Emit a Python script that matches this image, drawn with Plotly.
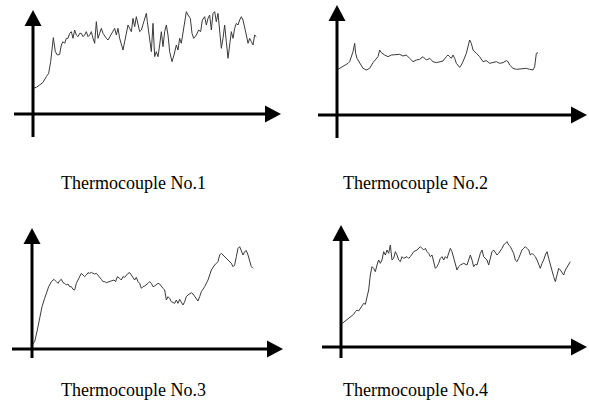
import plotly.graph_objects as go

W, H = 589, 413

# ---- data: time (arbitrary units) and temperature (arbitrary units) ----
t1 = [0, 10, 20, 30, 40, 47, 53, 57, 61, 67, 73, 80, 85, 90, 95, 100, 105, 110, 115, 120,
      125, 130, 135, 140, 145, 150, 155, 160, 165, 170, 175, 180, 185, 190, 195, 200, 205, 210, 215, 220,
      225, 230, 235, 240, 245, 250, 255, 260, 265, 270, 275, 280, 285, 290, 295, 300, 305, 310, 315, 320,
      325, 330, 335, 340, 343, 347, 351, 355, 360, 365, 370, 375, 380, 385, 390, 395, 400, 405, 410, 417,
      423, 430, 435, 440, 445, 450, 455, 460, 465, 472, 477, 482, 490, 497, 503, 508, 515, 520, 525, 530,
      535, 540, 545, 550, 555, 560, 565, 570, 575, 580, 585, 590, 595, 600, 605, 610, 615, 620, 625, 630,
      635, 640, 645, 650, 655, 660, 665, 670]
T1 = [77, 80, 87, 95, 112, 122, 157, 207, 229, 187, 177, 179, 207, 217, 212, 227, 227, 242, 247, 227,
      252, 237, 232, 242, 242, 232, 237, 247, 232, 237, 247, 227, 212, 277, 227, 242, 257, 242, 232, 227,
      222, 232, 242, 252, 257, 237, 257, 227, 207, 192, 217, 242, 267, 257, 247, 287, 262, 292, 267, 247,
      252, 267, 282, 302, 277, 247, 207, 187, 272, 172, 187, 172, 207, 247, 202, 247, 267, 237, 187, 157,
      177, 207, 192, 227, 212, 247, 287, 307, 297, 287, 242, 227, 237, 252, 247, 282, 292, 267, 287, 297,
      252, 302, 307, 277, 302, 247, 197, 227, 267, 217, 167, 207, 247, 227, 257, 272, 267, 282, 292, 282,
      262, 237, 212, 227, 217, 207, 237, 232]

t2 = [3, 13, 23, 33, 38, 43, 48, 53, 56, 60, 68, 78, 88, 98, 108, 118, 123, 128, 133, 143,
      153, 163, 173, 188, 198, 208, 218, 228, 238, 248, 258, 268, 278, 288, 298, 308, 318, 328, 333, 338,
      343, 348, 353, 358, 368, 373, 378, 388, 393, 398, 403, 408, 418, 428, 438, 448, 458, 468, 478, 488,
      498, 508, 513, 518, 528, 538, 548, 558, 568, 578, 588, 593, 598, 603]
T2 = [137, 143, 147, 155, 160, 175, 190, 215, 185, 170, 155, 140, 135, 140, 157, 170, 175, 195, 187, 180,
      175, 180, 180, 182, 177, 180, 170, 160, 165, 167, 175, 165, 170, 160, 157, 160, 162, 175, 180, 175,
      170, 180, 170, 155, 143, 150, 160, 185, 205, 225, 215, 195, 185, 175, 160, 163, 155, 157, 160, 155,
      157, 163, 160, 150, 140, 137, 138, 137, 140, 137, 135, 145, 185, 187]

t3 = [0, 8, 16, 23, 30, 38, 45, 50, 58, 66, 73, 78, 83, 88, 93, 98, 103, 108, 113, 118,
      123, 128, 133, 138, 143, 148, 153, 158, 163, 168, 173, 178, 183, 188, 193, 198, 203, 208, 213, 218,
      223, 228, 238, 246, 251, 256, 263, 268, 273, 278, 288, 293, 298, 308, 313, 318, 323, 328, 333, 338,
      348, 353, 358, 363, 368, 373, 378, 383, 388, 393, 398, 403, 408, 413, 418, 423, 428, 433, 438, 443,
      448, 453, 458, 463, 468, 473, 478, 483, 488, 493, 498, 503, 508, 518, 528, 538, 548, 558, 563, 568,
      573, 578, 583, 588, 593, 598, 603, 608, 613, 618, 623, 628, 633, 638, 643, 648, 653, 658, 663]
T3 = [12, 22, 57, 97, 127, 152, 172, 187, 202, 209, 202, 197, 205, 209, 199, 197, 192, 195, 187, 187,
      179, 177, 197, 207, 222, 227, 222, 217, 222, 229, 227, 230, 227, 225, 227, 222, 215, 209, 202, 202,
      199, 201, 203, 207, 202, 217, 212, 207, 217, 215, 227, 229, 222, 207, 215, 202, 197, 182, 187, 189,
      197, 202, 197, 187, 189, 192, 197, 195, 187, 182, 177, 147, 157, 152, 142, 139, 137, 147, 137, 149,
      142, 132, 142, 157, 162, 167, 169, 165, 157, 152, 144, 157, 172, 187, 207, 237, 252, 262, 282, 287,
      282, 277, 272, 267, 262, 257, 247, 252, 277, 302, 307, 297, 282, 292, 295, 282, 262, 247, 242]

t4 = [0, 8, 18, 28, 38, 43, 48, 53, 58, 63, 68, 73, 78, 83, 88, 93, 98, 103, 108, 113,
      118, 123, 128, 133, 138, 143, 148, 153, 158, 163, 168, 173, 178, 183, 188, 198, 203, 208, 218, 228,
      238, 243, 248, 253, 258, 263, 268, 273, 278, 283, 288, 293, 298, 303, 308, 313, 318, 323, 328, 333,
      338, 343, 348, 353, 358, 368, 378, 383, 388, 393, 398, 403, 408, 418, 423, 428, 433, 438, 443, 448,
      453, 458, 463, 468, 473, 478, 483, 488, 493, 498, 503, 508, 513, 518, 523, 528, 533, 538, 543, 548,
      553, 558, 563, 568, 573, 578, 583, 588, 593, 598, 603, 608, 613, 618, 623, 628, 633, 638, 643, 648,
      653, 658, 663, 668, 673, 678, 683, 688]
T4 = [68, 74, 81, 91, 98, 106, 111, 108, 116, 126, 131, 128, 146, 171, 216, 241, 236, 226, 246, 261,
      251, 261, 286, 276, 291, 281, 306, 261, 266, 286, 276, 261, 256, 271, 266, 271, 266, 271, 286, 291,
      301, 296, 291, 296, 286, 281, 271, 276, 256, 236, 241, 251, 266, 271, 261, 271, 266, 281, 296, 286,
      266, 251, 231, 241, 246, 251, 246, 261, 276, 261, 241, 248, 246, 281, 291, 271, 266, 261, 246, 266,
      286, 291, 281, 276, 281, 291, 296, 306, 311, 316, 306, 301, 291, 281, 261, 256, 266, 281, 291, 296,
      301, 296, 291, 276, 281, 276, 271, 261, 246, 236, 251, 261, 276, 286, 266, 246, 226, 211, 196, 216,
      236, 231, 221, 216, 231, 241, 251, 256]

captions = ["Thermocouple No.1", "Thermocouple No.2", "Thermocouple No.3", "Thermocouple No.4"]

# ---- layout geometry (pixels) ----
UNIT = 3.0  # data units per pixel
panels = [
    dict(box=(0, 294.5, 0, 206.5), o=(33, 114), xl=14, xt=281, yt=10, yb=137, cap=(133, 183)),
    dict(box=(294.5, 589, 0, 206.5), o=(337, 115), xl=318, xt=587, yt=5, yb=138, cap=(415, 183)),
    dict(box=(0, 294.5, 206.5, 413), o=(32, 349), xl=12, xt=283, yt=228, yb=358, cap=(133, 390)),
    dict(box=(294.5, 589, 206.5, 413), o=(341, 347), xl=322, xt=587, yt=225, yb=358, cap=(415, 390)),
]
series = [(t1, T1), (t2, T2), (t3, T3), (t4, T4)]

fig = go.Figure()
shapes = []
annotations = []
HEAD_L, HEAD_W, LW = 16, 8.5, 3

for i, (p, (t, T)) in enumerate(zip(panels, series)):
    k = "" if i == 0 else str(i + 1)
    xa, ya = "x" + k, "y" + k
    x0, x1, y0, y1 = p["box"]
    ox, oy = p["o"]
    fig.add_trace(go.Scatter(x=t, y=T, mode="lines", xaxis=xa, yaxis=ya,
                             line=dict(color="#3a3a3a", width=1), showlegend=False,
                             hoverinfo="skip"))
    fig.layout["xaxis" + k] = dict(domain=[x0 / W, x1 / W], range=[(x0 - ox) * UNIT, (x1 - ox) * UNIT],
                                   visible=False, fixedrange=True)
    fig.layout["yaxis" + k] = dict(domain=[1 - y1 / H, 1 - y0 / H], range=[(oy - y1) * UNIT, (oy - y0) * UNIT],
                                   visible=False, fixedrange=True)
    X = lambda px: (px - ox) * UNIT
    Y = lambda py: (oy - py) * UNIT
    # horizontal axis line + arrowhead
    shapes.append(dict(type="line", xref=xa, yref=ya, x0=X(p["xl"]), x1=X(p["xt"] - HEAD_L + 1), y0=0, y1=0,
                       line=dict(color="black", width=LW)))
    shapes.append(dict(type="path", xref=xa, yref=ya,
                       path=f"M {X(p['xt'] - HEAD_L)},{HEAD_W * UNIT} L {X(p['xt'])},0 L {X(p['xt'] - HEAD_L)},{-HEAD_W * UNIT} Z",
                       fillcolor="black", line=dict(color="black", width=0)))
    # vertical axis line + arrowhead
    shapes.append(dict(type="line", xref=xa, yref=ya, x0=0, x1=0, y0=Y(p["yb"]), y1=Y(p["yt"] + HEAD_L - 1),
                       line=dict(color="black", width=LW)))
    shapes.append(dict(type="path", xref=xa, yref=ya,
                       path=f"M {-HEAD_W * UNIT},{Y(p['yt'] + HEAD_L)} L 0,{Y(p['yt'])} L {HEAD_W * UNIT},{Y(p['yt'] + HEAD_L)} Z",
                       fillcolor="black", line=dict(color="black", width=0)))
    cx, cy = p["cap"]
    annotations.append(dict(text=captions[i], xref="paper", yref="paper", x=cx / W, y=1 - cy / H,
                            xanchor="center", yanchor="middle", showarrow=False,
                            font=dict(family="Liberation Serif, Times New Roman, serif", size=18, color="black")))

fig.update_layout(width=W, height=H, margin=dict(l=0, r=0, t=0, b=0),
                  paper_bgcolor="white", plot_bgcolor="rgba(0,0,0,0)",
                  shapes=shapes, annotations=annotations, showlegend=False)

fig.write_html("out.html", config={"displayModeBar": False},
               post_script="document.body.style.margin='0';document.body.style.overflow='hidden';")
